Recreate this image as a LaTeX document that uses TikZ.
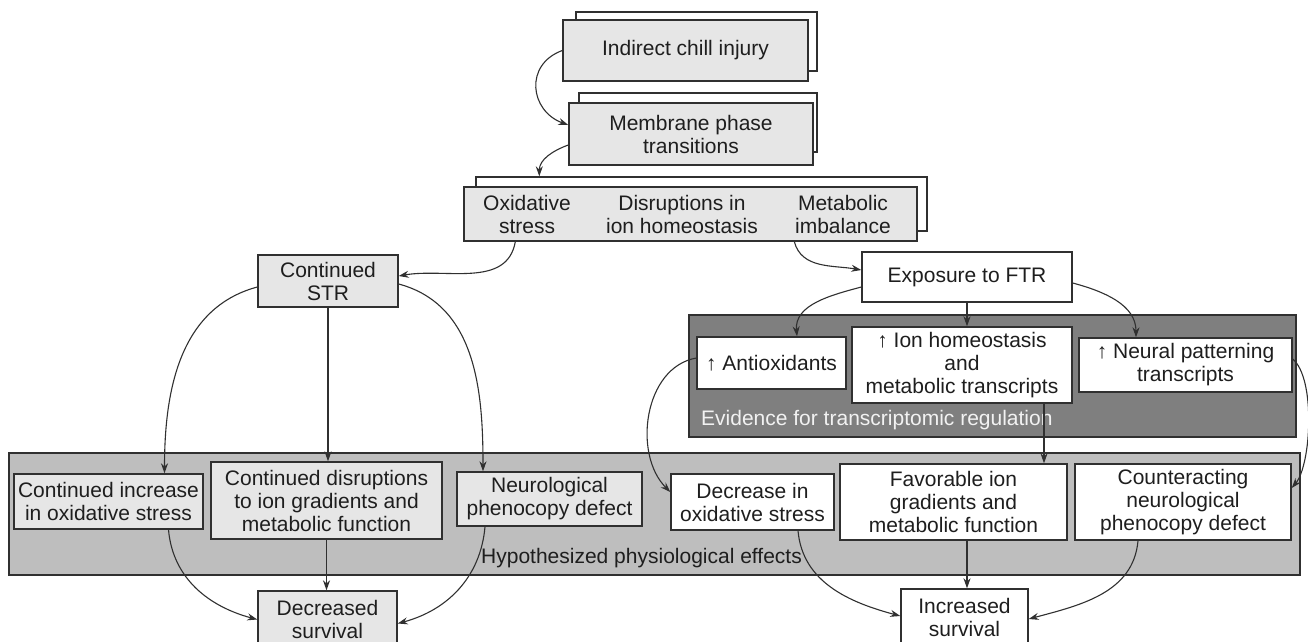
\documentclass[tikz,border=0pt]{standalone}
\usepackage{fontspec}
\setmainfont{Liberation Sans}
\usetikzlibrary{arrows.meta}
\definecolor{lg}{HTML}{E6E6E6}
\definecolor{hypc}{HTML}{BEBEBE}
\definecolor{evc}{HTML}{7F7F7F}
\definecolor{ln}{HTML}{303030}
\definecolor{txt}{HTML}{1E1E1E}
\definecolor{evtext}{HTML}{F2F2F2}
\begin{document}
\begin{tikzpicture}[x=1pt,y=-1pt,
  every node/.style={font=\fontsize{21}{23}\selectfont, text=txt},
  box/.style={draw=ln, line width=1.4pt, fill=lg, inner sep=0pt, align=center},
  wbox/.style={box, fill=white},
  backbox/.style={draw=ln, line width=1.4pt, fill=white, inner sep=0pt},
  panel/.style={draw=ln, line width=1.4pt, inner sep=0pt},
  lbl/.style={inner sep=0pt, align=center},
  arr/.style={draw=ln, line width=1.1pt, -{Stealth[length=10pt,width=7pt]}}]
\clip (0,0) rectangle (1308,641);
\fill[white] (0,0) rectangle (1308,641);
% panels
\node[panel, fill=hypc, minimum width=1291pt, minimum height=122pt] (hyp) at (654.5,514) {};
\node[lbl, anchor=west] (hyplab) at (481,558) {Hypothesized physiological effects};
\node[panel, fill=evc, minimum width=607pt, minimum height=122pt] (evid) at (992.5,376) {};
\node[lbl, anchor=west, text=evtext] (evlab) at (701,420) {Evidence for transcriptomic regulation};
% top stack
\node[backbox, minimum width=241pt, minimum height=59pt] (injb) at (696.5,41.5) {};
\node[box, minimum width=245pt, minimum height=61pt] (inj) at (685.5,50.5) {Indirect chill injury};
\node[backbox, minimum width=238pt, minimum height=59pt] (memb) at (698,122.5) {};
\node[box, minimum width=244pt, minimum height=62pt] (mem) at (691,134) {Membrane phase\\transitions};
\node[backbox, minimum width=451pt, minimum height=54pt] (strb) at (701.5,204) {};
\node[box, minimum width=453pt, minimum height=54pt] (str) at (690.5,214) {};
\node[lbl] (ox) at (527,214) {Oxidative\\stress};
\node[lbl] (dis) at (682,214) {Disruptions in\\ion homeostasis};
\node[lbl] (met) at (843,214) {Metabolic\\imbalance};
% middle
\node[box, minimum width=140pt, minimum height=52pt] (cstr) at (328,281) {Continued\\STR};
\node[wbox, minimum width=210pt, minimum height=50pt] (ftr) at (967,277) {Exposure to FTR};
\node[wbox, minimum width=149pt, minimum height=52pt] (anti) at (771.5,363) {↑ Antioxidants};
\node[wbox, minimum width=220pt, minimum height=76pt] (ion) at (962,365) {↑ Ion homeostasis\\and\\metabolic transcripts};
\node[wbox, minimum width=213pt, minimum height=54pt] (neur) at (1185.5,365) {↑ Neural patterning\\transcripts};
% effects
\node[box, minimum width=189pt, minimum height=55pt] (cinc) at (108.5,501.5) {Continued increase\\in oxidative stress};
\node[box, minimum width=231pt, minimum height=77pt] (cdis) at (326.5,500.5) {Continued disruptions\\to ion gradients and\\metabolic function};
\node[box, minimum width=185pt, minimum height=54pt] (neuro) at (549.5,499) {Neurological\\phenocopy defect};
\node[wbox, minimum width=163pt, minimum height=56pt] (dec) at (752.5,502) {Decrease in\\oxidative stress};
\node[wbox, minimum width=227pt, minimum height=76pt] (fav) at (953.5,502) {Favorable ion\\gradients and\\metabolic function};
\node[wbox, minimum width=216pt, minimum height=76pt] (cnt) at (1183,502) {Counteracting\\neurological\\phenocopy defect};
\node[box, minimum width=139pt, minimum height=57pt] (dsurv) at (327.5,619.5) {Decreased\\survival};
\node[wbox, minimum width=127pt, minimum height=56pt] (isurv) at (964.5,617) {Increased\\survival};
% connectors
\draw[arr] (inj.west) to[out=200, in=160, looseness=1.4] ([yshift=9pt]mem.west);
\draw[arr] ([yshift=-11pt]mem.west) to[out=200, in=90] ([xshift=64pt]strb.north west);
\draw[arr] ([xshift=52pt]str.south west) to[out=-100, in=10] ([yshift=5pt]cstr.east);
\draw[arr] ([xshift=331pt]str.south west) to[out=-75, in=170] ([yshift=7pt]ftr.west);
\draw[arr] ([yshift=-6pt]cstr.west) to[out=195, in=90] ([xshift=56pt]cinc.north);
\draw[arr] (cstr.south) -- (cstr.south |- cdis.north);
\draw[arr] ([yshift=-3pt]cstr.east) to[out=-15, in=90] ([xshift=-66.5pt]neuro.north);
\draw[arr] ([xshift=60pt]cinc.south) to[out=-85, in=165] (dsurv.west);
\draw[arr] (cdis.south) -- (cdis.south |- dsurv.north);
\draw[arr] ([xshift=-64.5pt]neuro.south) to[out=-95, in=15] ([yshift=-4pt]dsurv.east);
\draw[arr] ([yshift=-10pt]ftr.west) to[out=195, in=95] ([xshift=25.5pt]anti.north);
\draw[arr] (ftr.south) -- (ftr.south |- ion.north);
\draw[arr] ([yshift=-6pt]ftr.east) to[out=-15, in=90] ([xshift=-49.5pt]neur.north);
\draw[arr] ([xshift=82pt]ion.south) -- ([xshift=82pt]ion.south |- fav.north);
\draw[arr] ([yshift=5pt]anti.west) to[out=190, in=135] ([yshift=10pt]dec.west);
\draw[arr] ([yshift=6pt]neur.east) to[out=-40, in=50, looseness=0.6] ([yshift=14pt]cnt.east);
\draw[arr] ([xshift=45.5pt]dec.south) to[out=-85, in=165] ([yshift=1pt]isurv.west);
\draw[arr] ([xshift=13.5pt]fav.south) -- ([xshift=13.5pt]fav.south |- isurv.north);
\draw[arr] ([xshift=-45pt]cnt.south) to[out=-95, in=15] ([yshift=-2pt]isurv.east);
\end{tikzpicture}
\end{document}
